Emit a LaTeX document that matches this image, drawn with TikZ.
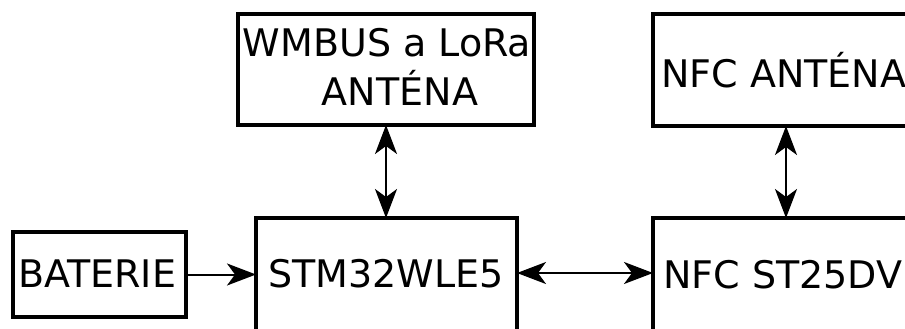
\documentclass[tikz,border=0pt]{standalone}
\usepackage{fontspec}
\setmainfont{DejaVu Sans}
\usetikzlibrary{arrows.meta}
\begin{document}
\begin{tikzpicture}[x=1pt,y=-1pt,
  box/.style={draw,line width=4.6pt,inner sep=0pt,outer sep=0pt},
  lbl/.style={inner sep=0pt,font=\fontsize{38}{45}\selectfont},
  tip/.style={},
  conn/.style={line width=2pt,-{Stealth[length=29pt,width=22pt,inset=8pt]}},
  dconn/.style={line width=2pt,{Stealth[length=29pt,width=22pt,inset=8pt]}-{Stealth[length=29pt,width=22pt,inset=8pt]}}]
\useasboundingbox (0,0) rectangle (905,329);
\clip (0,0) rectangle (905,329);
% boxes
\node[box,minimum width=173pt,minimum height=85pt] (bat) at (99.5,274.5) {};
\node[box,minimum width=261pt,minimum height=182pt] (stm) at (386.5,309) {};
\node[box,minimum width=296pt,minimum height=111pt] (wm) at (386,69.5) {};
\node[box,minimum width=266pt,minimum height=112pt] (nfca) at (786,70) {};
\node[box,minimum width=266pt,minimum height=182pt] (nfc) at (786,309) {};
% texts
\node[lbl,anchor=base west] (tbat) at (18,287) {BATERIE};
\node[lbl,anchor=base] (tstm) at (386,287) {STM32WLE5};
\node[lbl,anchor=base] (twm1) at (387,57) {WMBUS a LoRa};
\node[lbl,anchor=base] (twm2) at (400,105) {ANTÉNA};
\node[lbl,anchor=base west] (tnfca) at (661,88) {NFC ANTÉNA};
\node[lbl,anchor=base west] (tnfc) at (663,288) {NFC ST25DV};
% connectors
\draw[conn] (bat.east) -- (bat.east -| stm.west);
\draw[dconn] (stm.east |- 0,273) -- (nfc.west |- 0,273);
\draw[dconn] (wm.south) -- (wm.south |- stm.north);
\draw[dconn] (nfca.south) -- (nfca.south |- nfc.north);
\end{tikzpicture}
\end{document}
